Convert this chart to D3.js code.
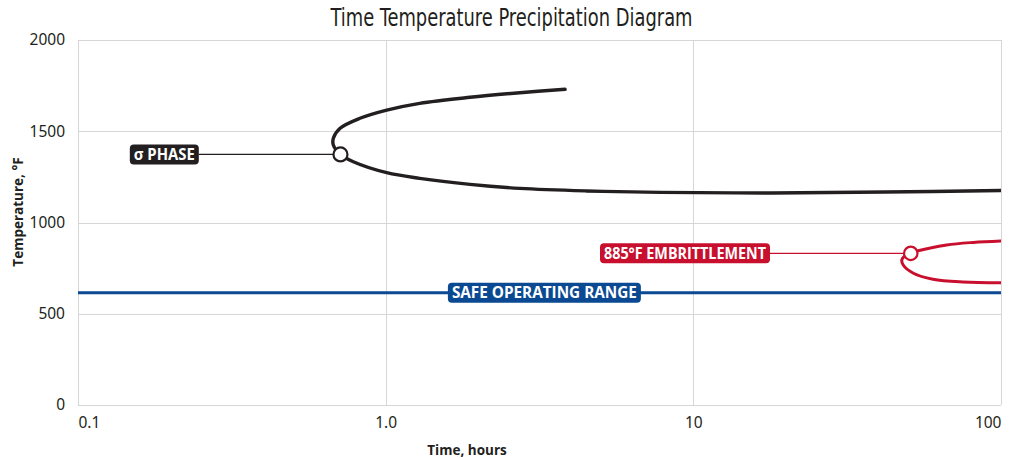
<!DOCTYPE html>
<html>
<head>
<meta charset="utf-8">
<script src="https://cdn.jsdelivr.net/npm/d3@7/dist/d3.min.js"></script>
<style>
  html, body { margin: 0; padding: 0; background: #fff; }
  svg { display: block; }
</style>
</head>
<body>
<svg id="chart" width="1012" height="458"></svg>
<script>
// Time (hours) vs temperature (°F) precipitation curves
const xTicks = [0.1, 1, 10, 100];
const xTickLabels = ["0.1", "1.0", "10", "100"];
const yTicks = [0, 500, 1000, 1500, 2000];

// Sigma phase C-curve, traced from upper branch through the nose to lower branch
const sigmaTime = [3.83, 2.73, 1.88, 1.29, 1.008, 0.825, 0.711, 0.676, 0.676, 0.713, 0.785, 1.008, 1.29, 1.88, 2.73, 4.5, 7.8, 18, 42, 100];
const sigmaTemp = [1730, 1711, 1686, 1653, 1616, 1571, 1516, 1461, 1425, 1373, 1333, 1273, 1242, 1209, 1187, 1173, 1165, 1162, 1167, 1175];
const sigmaMarker = { time: 0.713, temp: 1373 };

// 885°F embrittlement C-curve
const embTime = [100, 81.3, 66.6, 53.8, 50.9, 48.3, 47.6, 48.1, 51.9, 60.1, 75.2, 100];
const embTemp = [899, 891, 877, 845, 831, 812, 795, 767, 722, 689, 674, 670];
const embMarker = { time: 50.9, temp: 831 };

// Safe operating limit
const safeTemp = 615;

const labels = ["\u03c3 PHASE", "885\u00b0F EMBRITTLEMENT", "SAFE OPERATING RANGE"];

const svg = d3.select("#chart");
const m = { left: 78, right: 11, top: 40, bottom: 53 };
const W = 1012, H = 458;

const x = d3.scaleLog().domain([0.1, 100]).range([m.left, W - m.right]);
const y = d3.scaleLinear().domain([0, 2000]).range([H - m.bottom, m.top]);

const gridColor = "#d6d6d6";
const black = "#231f20", red = "#c8102e", blue = "#0b4a92";

// Title
svg.append("text")
  .attr("x", 511.5).attr("y", 26)
  .attr("text-anchor", "middle")
  .attr("font-family", "'DejaVu Sans Condensed', 'Liberation Sans Narrow', sans-serif")
  .attr("font-size", 24)
  .attr("fill", "#231f20")
  .attr("textLength", 362).attr("lengthAdjust", "spacingAndGlyphs")
  .text("Time Temperature Precipitation Diagram");

// Grid
const grid = svg.append("g");
grid.selectAll("line.h").data(yTicks).join("line")
  .attr("x1", x.range()[0]).attr("x2", x.range()[1])
  .attr("y1", d => Math.round(y(d)) + 0.5).attr("y2", d => Math.round(y(d)) + 0.5)
  .attr("stroke", gridColor).attr("stroke-width", 1);
grid.selectAll("line.v").data(xTicks).join("line")
  .attr("y1", y.range()[0]).attr("y2", y.range()[1])
  .attr("x1", d => Math.round(x(d)) + 0.5).attr("x2", d => Math.round(x(d)) + 0.5)
  .attr("stroke", gridColor).attr("stroke-width", 1);

// Axes (labels only; lines come from the grid frame)
const tickFont = "'Noto Sans', 'DejaVu Sans', sans-serif";
const yAxis = svg.append("g")
  .attr("transform", `translate(${m.left},0)`)
  .call(d3.axisLeft(y).tickValues(yTicks).tickSize(0).tickPadding(13).tickFormat(d3.format("d")));
yAxis.select(".domain").remove();
yAxis.selectAll("text").attr("font-family", tickFont).attr("font-size", 15.5).attr("fill", "#231f20");

const xAxis = svg.append("g")
  .attr("transform", `translate(0,${H - m.bottom})`)
  .call(d3.axisBottom(x).tickValues(xTicks).tickSize(0).tickPadding(12).tickFormat((d, i) => xTickLabels[i]));
xAxis.select(".domain").remove();
xAxis.selectAll("text")
  .attr("font-family", tickFont).attr("font-size", 15.5).attr("fill", "#231f20")
  .attr("text-anchor", (d, i) => i === 0 ? "start" : (i === xTicks.length - 1 ? "end" : "middle"));

// Axis titles
svg.append("text")
  .attr("transform", "translate(23,212) rotate(-90)")
  .attr("text-anchor", "middle")
  .attr("font-family", "'Open Sans', sans-serif").attr("font-weight", 700)
  .attr("font-size", 13.5).attr("fill", "#231f20")
  .text("Temperature, \u00b0F");
svg.append("text")
  .attr("x", 467).attr("y", 455)
  .attr("text-anchor", "middle")
  .attr("font-family", "'Open Sans', sans-serif").attr("font-weight", 700)
  .attr("font-size", 13.5).attr("fill", "#231f20")
  .text("Time, hours");

// Curves
const line = d3.line().x(d => x(d[0])).y(d => y(d[1])).curve(d3.curveCatmullRom.alpha(0.5));
const sigmaPts = sigmaTime.map((t, i) => [t, sigmaTemp[i]]);
const embPts = embTime.map((t, i) => [t, embTemp[i]]);

svg.append("clipPath").attr("id", "plot")
  .append("rect").attr("x", m.left).attr("y", m.top)
  .attr("width", W - m.right - m.left).attr("height", H - m.bottom - m.top);

const plot = svg.append("g").attr("clip-path", "url(#plot)");

// Safe operating line
plot.append("line")
  .attr("x1", x(0.1)).attr("x2", x(100))
  .attr("y1", y(safeTemp)).attr("y2", y(safeTemp))
  .attr("stroke", blue).attr("stroke-width", 3);

plot.append("path").datum(sigmaPts).attr("d", line)
  .attr("fill", "none").attr("stroke", black).attr("stroke-width", 3.4).attr("stroke-linecap", "round");
plot.append("path").datum(embPts).attr("d", line)
  .attr("fill", "none").attr("stroke", red).attr("stroke-width", 3).attr("stroke-linecap", "round");

// Callout labels
const labelFont = "'Open Sans', 'DejaVu Sans', sans-serif";
function tag(text, color, anchorX, cy, width, anchor) {
  const g = svg.append("g");
  const h = 20;
  const left = anchor === "end" ? anchorX - width : anchorX - width / 2;
  g.append("rect")
    .attr("x", left).attr("y", cy - h / 2)
    .attr("width", width).attr("height", h)
    .attr("rx", 4).attr("fill", color);
  g.append("text")
    .attr("x", left + width / 2).attr("y", cy + 5.6)
    .attr("text-anchor", "middle")
    .attr("font-family", labelFont).attr("font-weight", 700)
    .attr("font-size", 15.5).attr("fill", "#fff")
    .attr("textLength", width - 8).attr("lengthAdjust", "spacingAndGlyphs")
    .text(text);
  return left;
}

// sigma phase callout
const sY = y(sigmaMarker.temp);
const sRight = x(0.247);
svg.append("line").attr("x1", sRight).attr("x2", x(sigmaMarker.time))
  .attr("y1", sY).attr("y2", sY).attr("stroke", black).attr("stroke-width", 1.3);
tag(labels[0], black, sRight, sY, 69, "end");
svg.append("circle").attr("cx", x(sigmaMarker.time)).attr("cy", sY).attr("r", 7)
  .attr("fill", "#fff").attr("stroke", black).attr("stroke-width", 2.2);

// embrittlement callout
const eY = y(embMarker.temp);
const eRight = x(17.75);
svg.append("line").attr("x1", eRight).attr("x2", x(embMarker.time))
  .attr("y1", eY).attr("y2", eY).attr("stroke", red).attr("stroke-width", 1.3);
tag(labels[1], red, eRight, eY, 170, "end");
svg.append("circle").attr("cx", x(embMarker.time)).attr("cy", eY).attr("r", 6.7)
  .attr("fill", "#fff").attr("stroke", red).attr("stroke-width", 2.2);

// safe operating range tag on the line
tag(labels[2], blue, x(3.28), y(safeTemp), 193, "middle");
</script>
</body>
</html>
